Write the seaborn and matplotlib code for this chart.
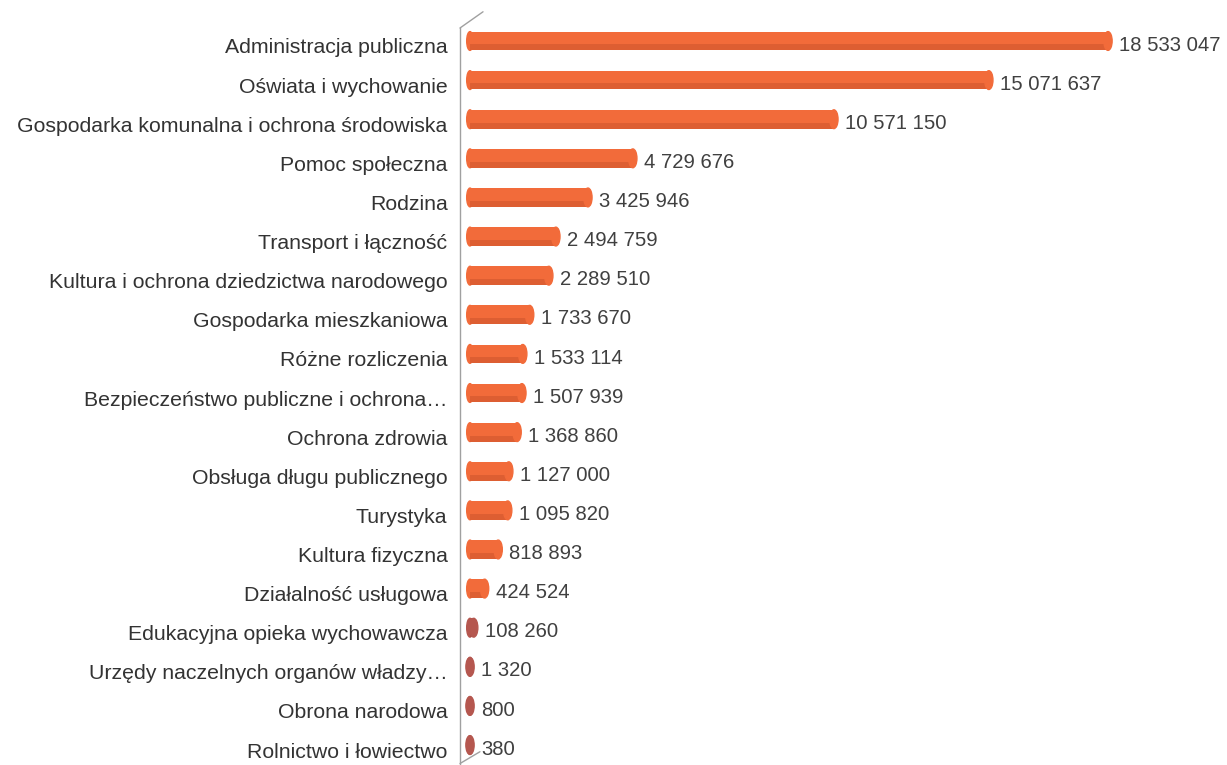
import matplotlib
matplotlib.use("Agg")
import matplotlib.pyplot as plt
import matplotlib.transforms as mtransforms
import seaborn as sns
from matplotlib.patches import Ellipse, Rectangle
from matplotlib.lines import Line2D

# data
categories = [
    "Administracja publiczna",
    "Oświata i wychowanie",
    "Gospodarka komunalna i ochrona środowiska",
    "Pomoc społeczna",
    "Rodzina",
    "Transport i łączność",
    "Kultura i ochrona dziedzictwa narodowego",
    "Gospodarka mieszkaniowa",
    "Różne rozliczenia",
    "Bezpieczeństwo publiczne i ochrona…",
    "Ochrona zdrowia",
    "Obsługa długu publicznego",
    "Turystyka",
    "Kultura fizyczna",
    "Działalność usługowa",
    "Edukacyjna opieka wychowawcza",
    "Urzędy naczelnych organów władzy…",
    "Obrona narodowa",
    "Rolnictwo i łowiectwo",
]
values = [18533047, 15071637, 10571150, 4729676, 3425946, 2494759, 2289510,
          1733670, 1533114, 1507939, 1368860, 1127000, 1095820, 818893,
          424524, 108260, 1320, 800, 380]

ORANGE = "#F26B3A"
BROWN = "#B5574F"
colors = [ORANGE if v > 200000 else BROWN for v in values]

sns.set_style("white")
plt.rcParams["font.family"] = ["Liberation Sans", "DejaVu Sans"]

fig = plt.figure(figsize=(12.27, 7.65), dpi=100)
ax = fig.add_axes([460 / 1227, 0, 767 / 1227, 737 / 765])

sns.barplot(x=values, y=categories, hue=categories, palette=colors,
            orient="h", width=0.48, legend=False, ax=ax, saturation=1)

ax.set_xlim(-290000, 21990000)
ax.set_ylim(18.51, -0.332)

# cylinder look: end caps and a darker lower edge
cap_w = 240000
for bar, col in zip(ax.patches, colors):
    x0, y0 = bar.get_x(), bar.get_y()
    w, h = bar.get_width(), bar.get_height()
    bar.set_edgecolor("none")
    dark = "#D0562E" if col == ORANGE else "#9C4A45"
    ax.add_patch(Ellipse((x0, y0 + h / 2), cap_w * 0.8, h, color=col, zorder=2))
    ax.add_patch(Rectangle((x0, y0 + h * 0.68), w, h * 0.32, color=dark,
                           alpha=0.6, lw=0, zorder=2.5))
    ax.add_patch(Ellipse((x0 + w, y0 + h / 2), cap_w, h, color=col, zorder=3))
    ax.annotate(f"{int(round(x0 + w)):,}".replace(",", " "),
                xy=(x0 + w, y0 + h / 2), xytext=(8, -3),
                textcoords="offset points", va="center", ha="left",
                fontsize=14.6, color="#404040")

for s in ["top", "right", "bottom"]:
    ax.spines[s].set_visible(False)
ax.spines["left"].set_color("#a0a0a0")
ax.spines["left"].set_linewidth(1)

ax.set_xlabel("")
ax.set_ylabel("")
ax.set_xticks([])
ax.tick_params(axis="y", which="major", length=0, pad=9,
               labelsize=15.3, labelcolor="#333333")
ax.set_yticks([i + 0.5 for i in range(len(categories) - 1)], minor=True)
ax.tick_params(axis="y", which="minor", length=4, color="#a0a0a0",
               direction="out")

# labels sit a little lower than the bars, as in the source
shift = mtransforms.ScaledTranslation(0, -0.05, fig.dpi_scale_trans)
for lab in ax.get_yticklabels():
    lab.set_transform(lab.get_transform() + shift)

# perspective lines at top and bottom of the axis
ax.add_line(Line2D([0, 0.03], [1, 1.022], transform=ax.transAxes,
                   color="#a0a0a0", lw=1, clip_on=False))
ax.add_line(Line2D([0, 0.026], [0.002, 0.018], transform=ax.transAxes,
                   color="#a0a0a0", lw=1, clip_on=False))

fig.savefig("out.png", dpi=100)
